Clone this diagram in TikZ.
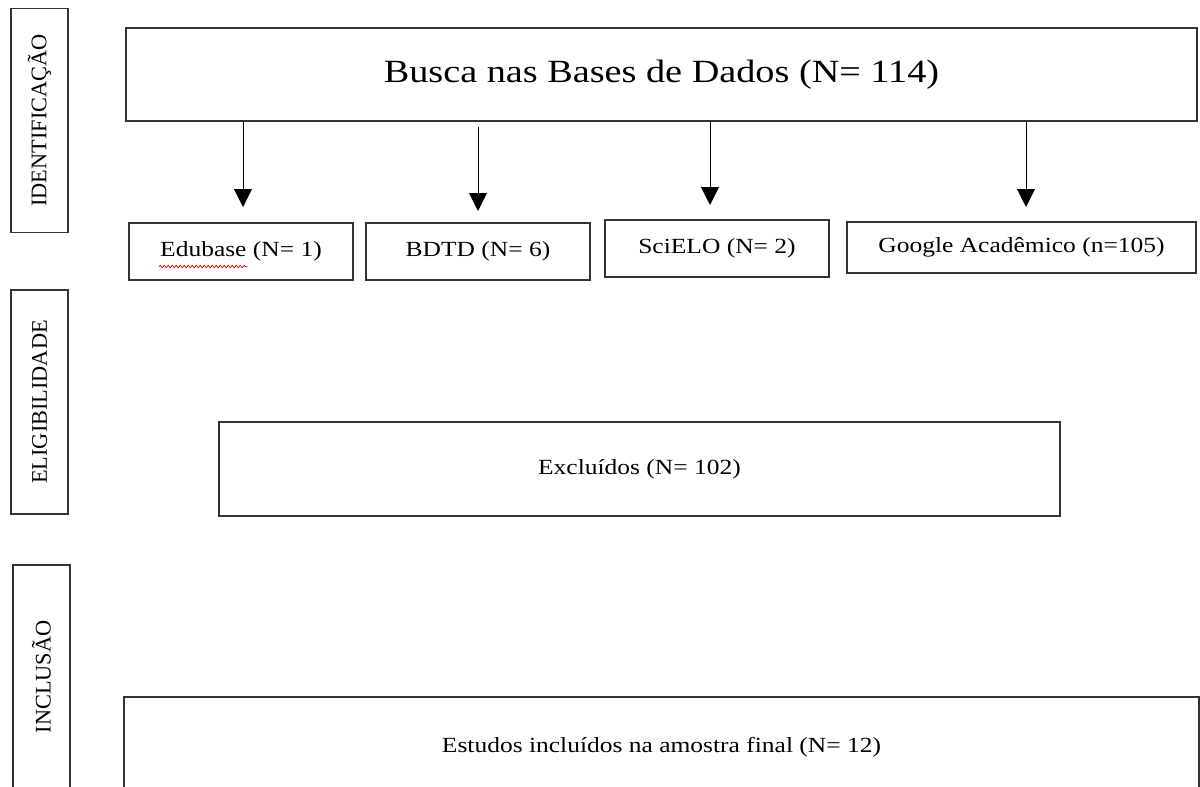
\documentclass[tikz,border=0pt]{standalone}
\usepackage{fontspec}
\setmainfont{Liberation Serif}
\newfontfamily\largo[FakeStretch=1.18]{Liberation Serif}
\usetikzlibrary{arrows.meta,decorations.pathmorphing}

\begin{document}
\begin{tikzpicture}[x=1pt, y=-1pt]
  \tikzset{
    caixa/.style={draw=black!80, line width=1.1pt, inner sep=0pt, outer sep=0pt,
      font=\largo\fontsize{21.6}{24}\selectfont},
    fase/.style={caixa, rotate=90, minimum width=224pt, minimum height=57pt,
      font=\fontsize{22.3}{24}\selectfont},
    seta/.style={line width=0.9pt, -{Triangle[length=18pt, width=18pt]}},
    rabisco/.style={red!85!black, line width=0.7pt, decorate,
      decoration={snake, amplitude=1.1pt, segment length=4pt}},
  }
  \useasboundingbox (0,0) rectangle (1200,787);
  \clip (0,0) rectangle (1200,787);

  % fases
  \node[fase] (ident) at (39.5,120.5) {IDENTIFICAÇÃO};
  \node[fase] (eleg) at (39.5,402) {ELIGIBILIDADE};
  \node[fase] (inclab) at (41.5,677) {INCLUSÃO};

  % busca
  \node[caixa, minimum width=1071pt, minimum height=93pt,
    font=\largo\fontsize{32.4}{36}\selectfont] (busca) at (661.5,74.5)
    {Busca nas Bases de Dados (N= 114)};

  \node[caixa, minimum width=224pt, minimum height=57pt] (edu) at (241,251.5) {Edubase (N= 1)};
  \node[caixa, minimum width=224pt, minimum height=57pt] (bdtd) at (478,251.5) {BDTD (N= 6)};
  \node[caixa, minimum width=224pt, minimum height=57pt] (scielo) at (717,248.5) {SciELO (N= 2)};
  \node[caixa, minimum width=349pt, minimum height=51pt] (google) at (1021.5,247.5) {Google Acadêmico (n=105)};
  \draw[rabisco] ([shift={(-82,15)}]edu.center) -- ++(88,0);

  \foreach \b/\dx/\s/\g in {edu/2/0/16, bdtd/0/6/12, scielo/-7/0/15, google/4.5/0/15}
    \draw[seta, shorten <=\s pt, shorten >=\g pt]
      ([xshift=\dx pt]busca.south -| \b.north) -- ([xshift=\dx pt]\b.north);

  % exclusao e inclusao
  \node[caixa, minimum width=841pt, minimum height=94pt] (excl) at (639.5,469) {Excluídos (N= 102)};
  \node[caixa, minimum width=1075pt, minimum height=101pt] (final) at (661.5,747.5)
    {Estudos incluídos na amostra final (N= 12)};
\end{tikzpicture}
\end{document}
